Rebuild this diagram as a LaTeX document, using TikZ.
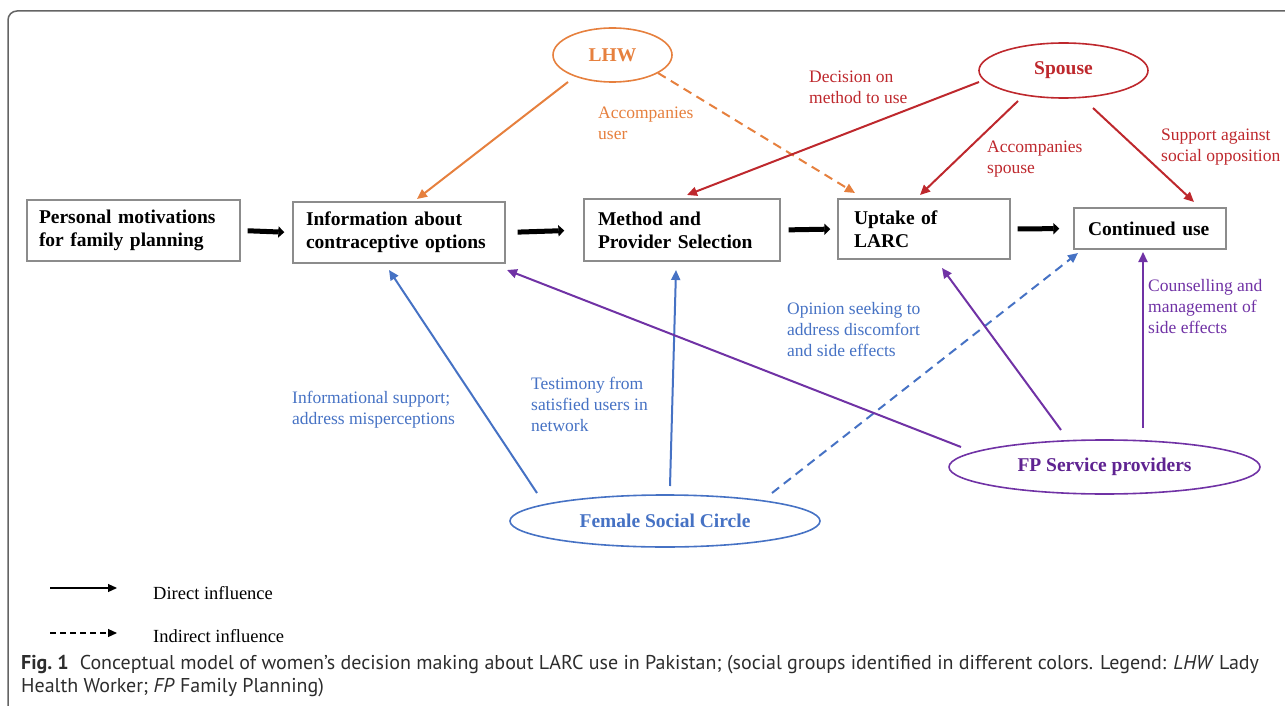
\documentclass[tikz,border=0pt]{standalone}
\usepackage{fontspec}
\setmainfont{Liberation Serif}
\newfontfamily\capfont{PT Sans}
\usetikzlibrary{arrows.meta,shapes.geometric,calc}
\definecolor{cOr}{RGB}{230,128,62}
\definecolor{cRd}{RGB}{190,40,45}
\definecolor{cBl}{RGB}{70,114,196}
\definecolor{cPu}{RGB}{112,50,165}
\definecolor{cPuT}{RGB}{95,35,145}
\definecolor{frameC}{RGB}{100,100,100}
\definecolor{boxC}{RGB}{140,140,140}
\definecolor{capC}{RGB}{45,45,45}
\tikzset{
  stagebox/.style={draw=boxC, line width=1.3pt, fill=white, align=left,
    font=\fontsize{19.5}{23}\selectfont\bfseries, inner ysep=0pt},
  ovalnode/.style={ellipse, draw, line width=1.6pt, inner sep=0pt,
    font=\fontsize{19.5}{22}\selectfont\bfseries},
  flowarrow/.style={line width=5pt, -{Triangle[length=6pt,width=11pt]}},
  infl/.style={line width=2pt, -{Triangle[length=10pt,width=9pt]}},
  indirect/.style={dash pattern=on 9pt off 6pt},
  lbl/.style={anchor=north west, inner sep=0pt, align=left,
    font=\fontsize{17.5}{21}\selectfont},
  legtext/.style={anchor=west, inner sep=0pt, font=\fontsize{18.5}{22}\selectfont},
  legarrow/.style={line width=1.2pt, -{Triangle[length=9pt,width=8pt]}},
  captext/.style={anchor=base west, inner sep=0pt, text=capC,
    font=\capfont\fontsize{20}{23}\selectfont}
}
\begin{document}
\begin{tikzpicture}[x=1pt,y=-1pt]
\useasboundingbox (0,0) rectangle (1285,706);
\begin{scope}
\clip (0,0) rectangle (1285,706);
\draw[frameC, line width=1.5pt, rounded corners=9pt] (8,11) rectangle (1320,740);
\end{scope}

% stage boxes
\node[stagebox, text width=189pt, inner xsep=12pt, minimum height=61pt] (b1) at (133.5,230.5) {Personal motivations\\for family planning};
\node[stagebox, text width=186pt, inner xsep=13pt, minimum height=61pt] (b2) at (399,232.5) {Information about\\contraceptive options};
\node[stagebox, text width=168pt, inner xsep=14pt, minimum height=62pt] (b3) at (682,230) {Method and\\Provider Selection};
\node[stagebox, text width=140pt, inner xsep=16pt, minimum height=60pt] (b4) at (924,229) {Uptake of\\LARC};
\node[stagebox, text width=124pt, inner xsep=14pt, minimum height=41pt] (b5) at (1150,228.5) {Continued use};

% flow arrows
\draw[flowarrow, shorten <=7pt, shorten >=8pt] (b1.east) -- (b2.west);
\draw[flowarrow, shorten <=12pt, shorten >=19pt] (b2.east) -- (b3.west);
\draw[flowarrow, shorten <=8pt, shorten >=7pt] (b3.east) -- (b4.west);
\draw[flowarrow, shorten <=7pt, shorten >=14pt] (b4.east) -- (b5.west);

% social groups
\node[ovalnode, draw=cOr, text=cOr, minimum width=119pt, minimum height=54pt] (lhw) at (612.5,55) {LHW};
\node[ovalnode, draw=cRd, text=cRd, minimum width=169pt, minimum height=55pt] (spouse) at (1063.5,70.5) {Spouse};
\node[ovalnode, draw=cBl, text=cBl, minimum width=310pt, minimum height=52pt] (fsc) at (665,521) {Female Social Circle};
\node[ovalnode, draw=cPu, text=cPuT, minimum width=311pt, minimum height=54pt] (fp) at (1104.5,467) {FP Service providers};

% LHW
\draw[infl, cOr] ([shift={(-44.5,27)}]lhw.center) -- ([shift={(18,-33.5)}]b2.center);
\draw[infl, indirect, cOr] ([shift={(45.5,18)}]lhw.center) -- ([shift={(-69,-36)}]b4.center);
\node[lbl, text=cOr] (lLHW) at (598,107) {Accompanies\\user};

% Spouse
\draw[infl, cRd] ([shift={(-84.5,11.5)}]spouse.center) -- ([shift={(5,-35)}]b3.center);
\draw[infl, cRd] ([shift={(-45.5,30.5)}]spouse.center) -- ([shift={(-4,-34)}]b4.center);
\draw[infl, cRd] ([shift={(29.5,37.5)}]spouse.center) -- ([shift={(44,-26.5)}]b5.center);
\node[lbl, text=cRd] (lDec) at (809,71) {Decision on\\method to use};
\node[lbl, text=cRd] (lAcc) at (987,141) {Accompanies\\spouse};
\node[lbl, text=cRd] (lSup) at (1161,129) {Support against\\social opposition};

% Female social circle
\draw[infl, cBl] ([shift={(-128,-28)}]fsc.center) -- ([shift={(-10,37.5)}]b2.center);
\draw[infl, cBl] ([shift={(5,-35)}]fsc.center) -- ([shift={(-6,40)}]b3.center);
\draw[infl, indirect, cBl] ([shift={(107,-28)}]fsc.center) -- ([shift={(-72,24.5)}]b5.center);
\node[lbl, text=cBl] (lInf) at (292,391) {Informational support;\\address misperceptions};
\node[lbl, text=cBl] (lTes) at (531,377) {Testimony from\\satisfied users in\\network};
\node[lbl, text=cBl] (lOpi) at (787,302) {Opinion seeking to\\address discomfort\\and side effects};

% FP service providers
\draw[infl, cPu] ([shift={(-143.5,-20)}]fp.center) -- ([shift={(108,37.5)}]b2.center);
\draw[infl, cPu] ([shift={(-43.5,-37)}]fp.center) -- ([shift={(18,39)}]b4.center);
\draw[infl, cPu] ([shift={(38.5,-39)}]fp.center) -- ([shift={(-7,23.5)}]b5.center);
\node[lbl, text=cPu] (lCou) at (1148,279) {Counselling and\\management of\\side effects};

% legend
\coordinate (d1) at (50,588);
\coordinate (d2) at (117,588);
\coordinate (i1) at (50,633);
\coordinate (i2) at (117,633);
\draw[legarrow] (d1) -- (d2);
\draw[legarrow, dash pattern=on 6pt off 4pt] (i1) -- (i2);
\node[legtext] (tDir) at (153,593) {Direct influence};
\node[legtext] (tInd) at (153,636) {Indirect influence};

% caption
\node[captext] (cap1) at (21,669) {\textbf{Fig.~1}\hspace{11pt}Conceptual model of women’s decision making about LARC use in Pakistan; (social groups identified in different colors. Legend: \textit{LHW} Lady};
\node[captext] (cap2) at (21,692) {Health Worker; \textit{FP} Family Planning)};
\end{tikzpicture}
\end{document}
